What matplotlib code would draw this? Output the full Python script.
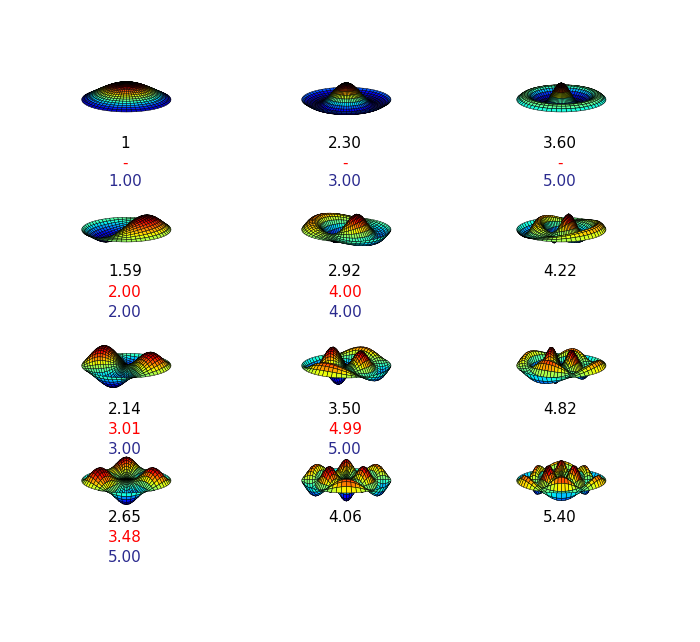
import numpy as np
import matplotlib
matplotlib.use("Agg")
import matplotlib.pyplot as plt
from matplotlib import cm

# angular order m per row, radial order n per column
orders_m = [0, 1, 2, 3]
bessel_zeros = [
    [2.4048, 5.5201, 8.6537],
    [3.8317, 7.0156, 10.1735],
    [5.1356, 8.4172, 11.6198],
    [6.3802, 9.7610, 13.0152],
]
ratio_labels = [["1", "2.30", "3.60"], ["1.59", "2.92", "4.22"],
                ["2.14", "3.50", "4.82"], ["2.65", "4.06", "5.40"]]
red_labels = [["-", "-", "-"], ["2.00", "4.00", None],
              ["3.01", "4.99", None], ["3.48", None, None]]
blue_labels = [["1.00", "3.00", "5.00"], ["2.00", "4.00", None],
               ["3.00", "5.00", None], ["5.00", None, None]]


def besselj(m, x):
    tau = np.linspace(0, np.pi, 401)
    vals = np.cos(m * tau[None, :] - np.asarray(x).ravel()[:, None] * np.sin(tau[None, :]))
    return (np.trapezoid(vals, tau, axis=1) / np.pi).reshape(np.shape(x))


fig = plt.figure(figsize=(7.0, 6.42), dpi=100)
col_x = [125, 345, 560]
row_y = [100, 230, 366, 481]
label_y = [[143, 163, 182], [271, 292, 312], [409, 430, 450], [518, 538, 558]]

r = np.linspace(0, 1, 18)
th = np.linspace(0, 2 * np.pi, 61)
R, TH = np.meshgrid(r, th)
X, Y = R * np.cos(TH), R * np.sin(TH)

for i, m in enumerate(orders_m):
    for j in range(3):
        k = bessel_zeros[i][j]
        Z = besselj(m, k * R) * np.cos(m * TH)
        Z = Z / np.abs(Z).max()
        w, h = 150 / 700, 100 / 642
        ax = fig.add_axes([col_x[j] / 700 - w / 2, 1 - row_y[i] / 642 - h / 2, w, h],
                          projection="3d")
        norm = (Z - Z.min()) / (Z.max() - Z.min())
        ax.plot_surface(X, Y, Z, facecolors=cm.jet(norm), edgecolor="k",
                        linewidth=0.35, rstride=1, cstride=1, shade=False)
        ax.view_init(elev=16, azim=-60)
        ax.set_box_aspect((1, 1, 0.38), zoom=1.45)
        ax.set_zlim(-1.2, 1.2)
        ax.set_axis_off()
        ax.patch.set_alpha(0)

        lx = col_x[j] / 700
        fig.text(lx, 1 - label_y[i][0] / 642, ratio_labels[i][j], color="black",
                 ha="center", va="center", fontsize=11, zorder=10)
        if red_labels[i][j]:
            fig.text(lx, 1 - label_y[i][1] / 642, red_labels[i][j], color="red",
                     ha="center", va="center", fontsize=11, zorder=10)
        if blue_labels[i][j]:
            fig.text(lx, 1 - label_y[i][2] / 642, blue_labels[i][j], color="#2b2b8f",
                     ha="center", va="center", fontsize=11, zorder=10)

fig.savefig("out.png", dpi=100)
